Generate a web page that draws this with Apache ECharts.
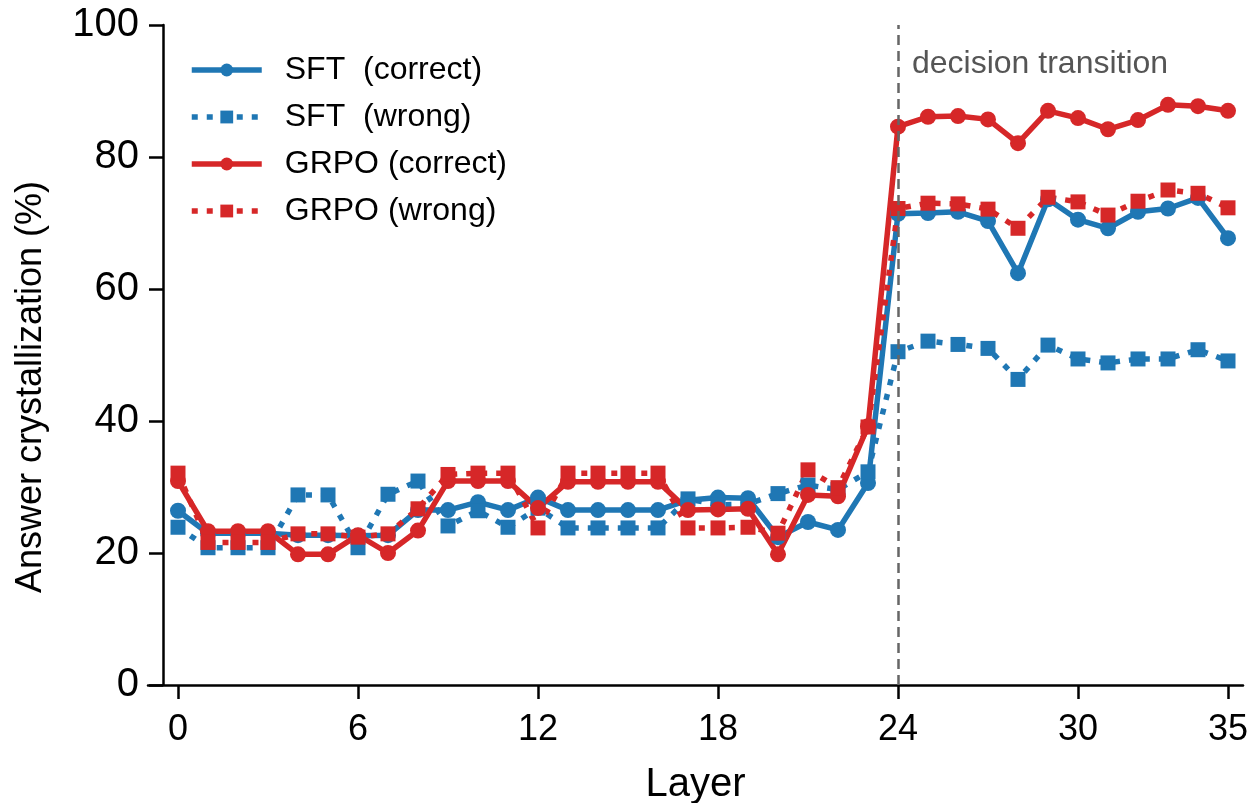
<!DOCTYPE html>
<html>
<head>
<meta charset="utf-8">
<script src="https://cdn.jsdelivr.net/npm/echarts@6/dist/echarts.min.js"></script>
<style>
html,body{margin:0;padding:0;background:#fff;}
#chart{width:1251px;height:803px;}
</style>
</head>
<body>
<div id="chart"></div>
<script>
const layers = [0,1,2,3,4,5,6,7,8,9,10,11,12,13,14,15,16,17,18,19,20,21,22,23,24,25,26,27,28,29,30,31,32,33,34,35];
const xTickValues = [0,6,12,18,24,30,35];
const sftCorrect = [26.4,23.0,23.0,23.0,22.7,22.7,22.6,22.7,26.5,26.5,27.7,26.5,28.4,26.5,26.5,26.5,26.5,28.0,28.4,28.3,22.4,24.7,23.5,30.6,71.4,71.5,71.7,70.3,62.4,73.6,70.5,69.2,71.7,72.2,73.8,67.7];
const sftWrong = [23.9,20.8,20.8,20.8,28.8,28.8,20.8,28.9,30.9,24.1,26.4,23.9,26.8,23.8,23.8,23.8,23.8,28.2,27.3,27.4,29.0,30.3,29.6,32.3,50.5,52.1,51.6,51.0,46.3,51.5,49.4,48.8,49.4,49.4,50.8,49.1];
const grpoCorrect = [30.9,23.3,23.3,23.3,19.8,19.8,22.7,20.0,23.4,30.9,30.9,30.9,26.8,30.8,30.8,30.8,30.8,26.5,26.6,26.7,19.8,28.8,28.6,39.2,84.6,86.1,86.2,85.7,82.1,87.0,85.9,84.2,85.6,87.9,87.7,87.0];
const grpoWrong = [32.1,21.6,21.6,21.6,22.9,22.9,22.4,22.9,26.7,31.9,32.1,32.1,23.8,32.1,32.1,32.1,32.1,23.8,23.8,23.9,23.0,32.6,29.9,39.1,72.2,73.0,72.9,72.1,69.2,73.9,73.2,71.2,73.3,75.0,74.5,72.3];
const seriesNames = ['SFT  (correct)','SFT  (wrong)','GRPO (correct)','GRPO (wrong)'];
const transitionLayer = 24;
const transitionText = 'decision transition';
const yTitle = 'Answer crystallization (%)';
const xTitle = 'Layer';

const BLUE = '#1f77b4', RED = '#d62728';
const FONT = "'Liberation Sans', Arial, Helvetica, sans-serif";
const pair = v => layers.map((l, i) => [l, v[i]]);
const DOT = [6, 9];

function mk(name, vals, color, dotted, sym, size) {
  return {
    name, type: 'line', data: pair(vals),
    symbol: sym, symbolSize: size, showSymbol: true,
    itemStyle: { color: color, borderWidth: 0 },
    lineStyle: { color: color, width: 5.5, type: dotted ? DOT : 'solid', cap: 'butt' },
    emphasis: { disabled: true }, animation: false
  };
}

const series = [
  mk(seriesNames[0], sftCorrect, BLUE, false, 'circle', 16),
  mk(seriesNames[1], sftWrong, BLUE, true, 'rect', 15),
  mk(seriesNames[2], grpoCorrect, RED, false, 'circle', 16),
  mk(seriesNames[3], grpoWrong, RED, true, 'rect', 15)
];
series[0].markLine = {
  silent: true, symbol: 'none', animation: false,
  lineStyle: { color: '#666', width: 2.5, type: [10, 6] },
  label: { show: false },
  data: [{ xAxis: transitionLayer }]
};

const legendData = seriesNames.map((n, i) => ({
  name: n,
  itemStyle: { color: i < 2 ? BLUE : RED },
  lineStyle: { width: 5.5, type: (i % 2) ? DOT : 'solid', color: i < 2 ? BLUE : RED }
}));

const chart = echarts.init(document.getElementById('chart'), null, { renderer: 'canvas' });
chart.setOption({
  backgroundColor: '#fff',
  animation: false,
  textStyle: { fontFamily: FONT },
  grid: { left: 148, right: 8, top: 25, bottom: 118, containLabel: false, outerBoundsMode: 'none' },
  legend: {
    orient: 'vertical', left: 184, top: 49,
    itemWidth: 70, itemHeight: 16, itemGap: 15,
    textStyle: { fontSize: 32, color: '#000', fontFamily: FONT, padding: [0, 0, 0, 18] },
    data: legendData
  },
  xAxis: {
    type: 'value', min: -1, max: 35.5,
    name: xTitle, nameLocation: 'middle', nameGap: 80,
    nameTextStyle: { fontSize: 40, color: '#000', fontFamily: FONT },
    axisLine: { show: true, onZero: false, lineStyle: { color: '#000', width: 2.5 } },
    axisTick: { show: true, length: 14, lineStyle: { color: '#000', width: 2.5 }, customValues: xTickValues },
    axisLabel: { fontSize: 36, color: '#000', margin: 27, fontFamily: FONT, customValues: xTickValues },
    splitLine: { show: false }
  },
  yAxis: {
    type: 'value', min: 0, max: 100, interval: 20, offset: -15,
    axisLine: { show: true, onZero: false, lineStyle: { color: '#000', width: 2.5 } },
    axisTick: { show: true, length: 14, lineStyle: { color: '#000', width: 2.5 } },
    axisLabel: { fontSize: 40, color: '#000', margin: 24, fontFamily: FONT },
    splitLine: { show: false }
  },
  graphic: [{
    type: 'text', left: 912, top: 48,
    style: { text: transitionText, fontSize: 32, fill: '#555', fontFamily: FONT }
  }, {
    type: 'text', x: 31, y: 387, rotation: Math.PI / 2,
    style: { text: yTitle, fontSize: 36, fill: '#000', fontFamily: FONT, align: 'center', verticalAlign: 'middle' }
  }],
  series
});
</script>
</body>
</html>
